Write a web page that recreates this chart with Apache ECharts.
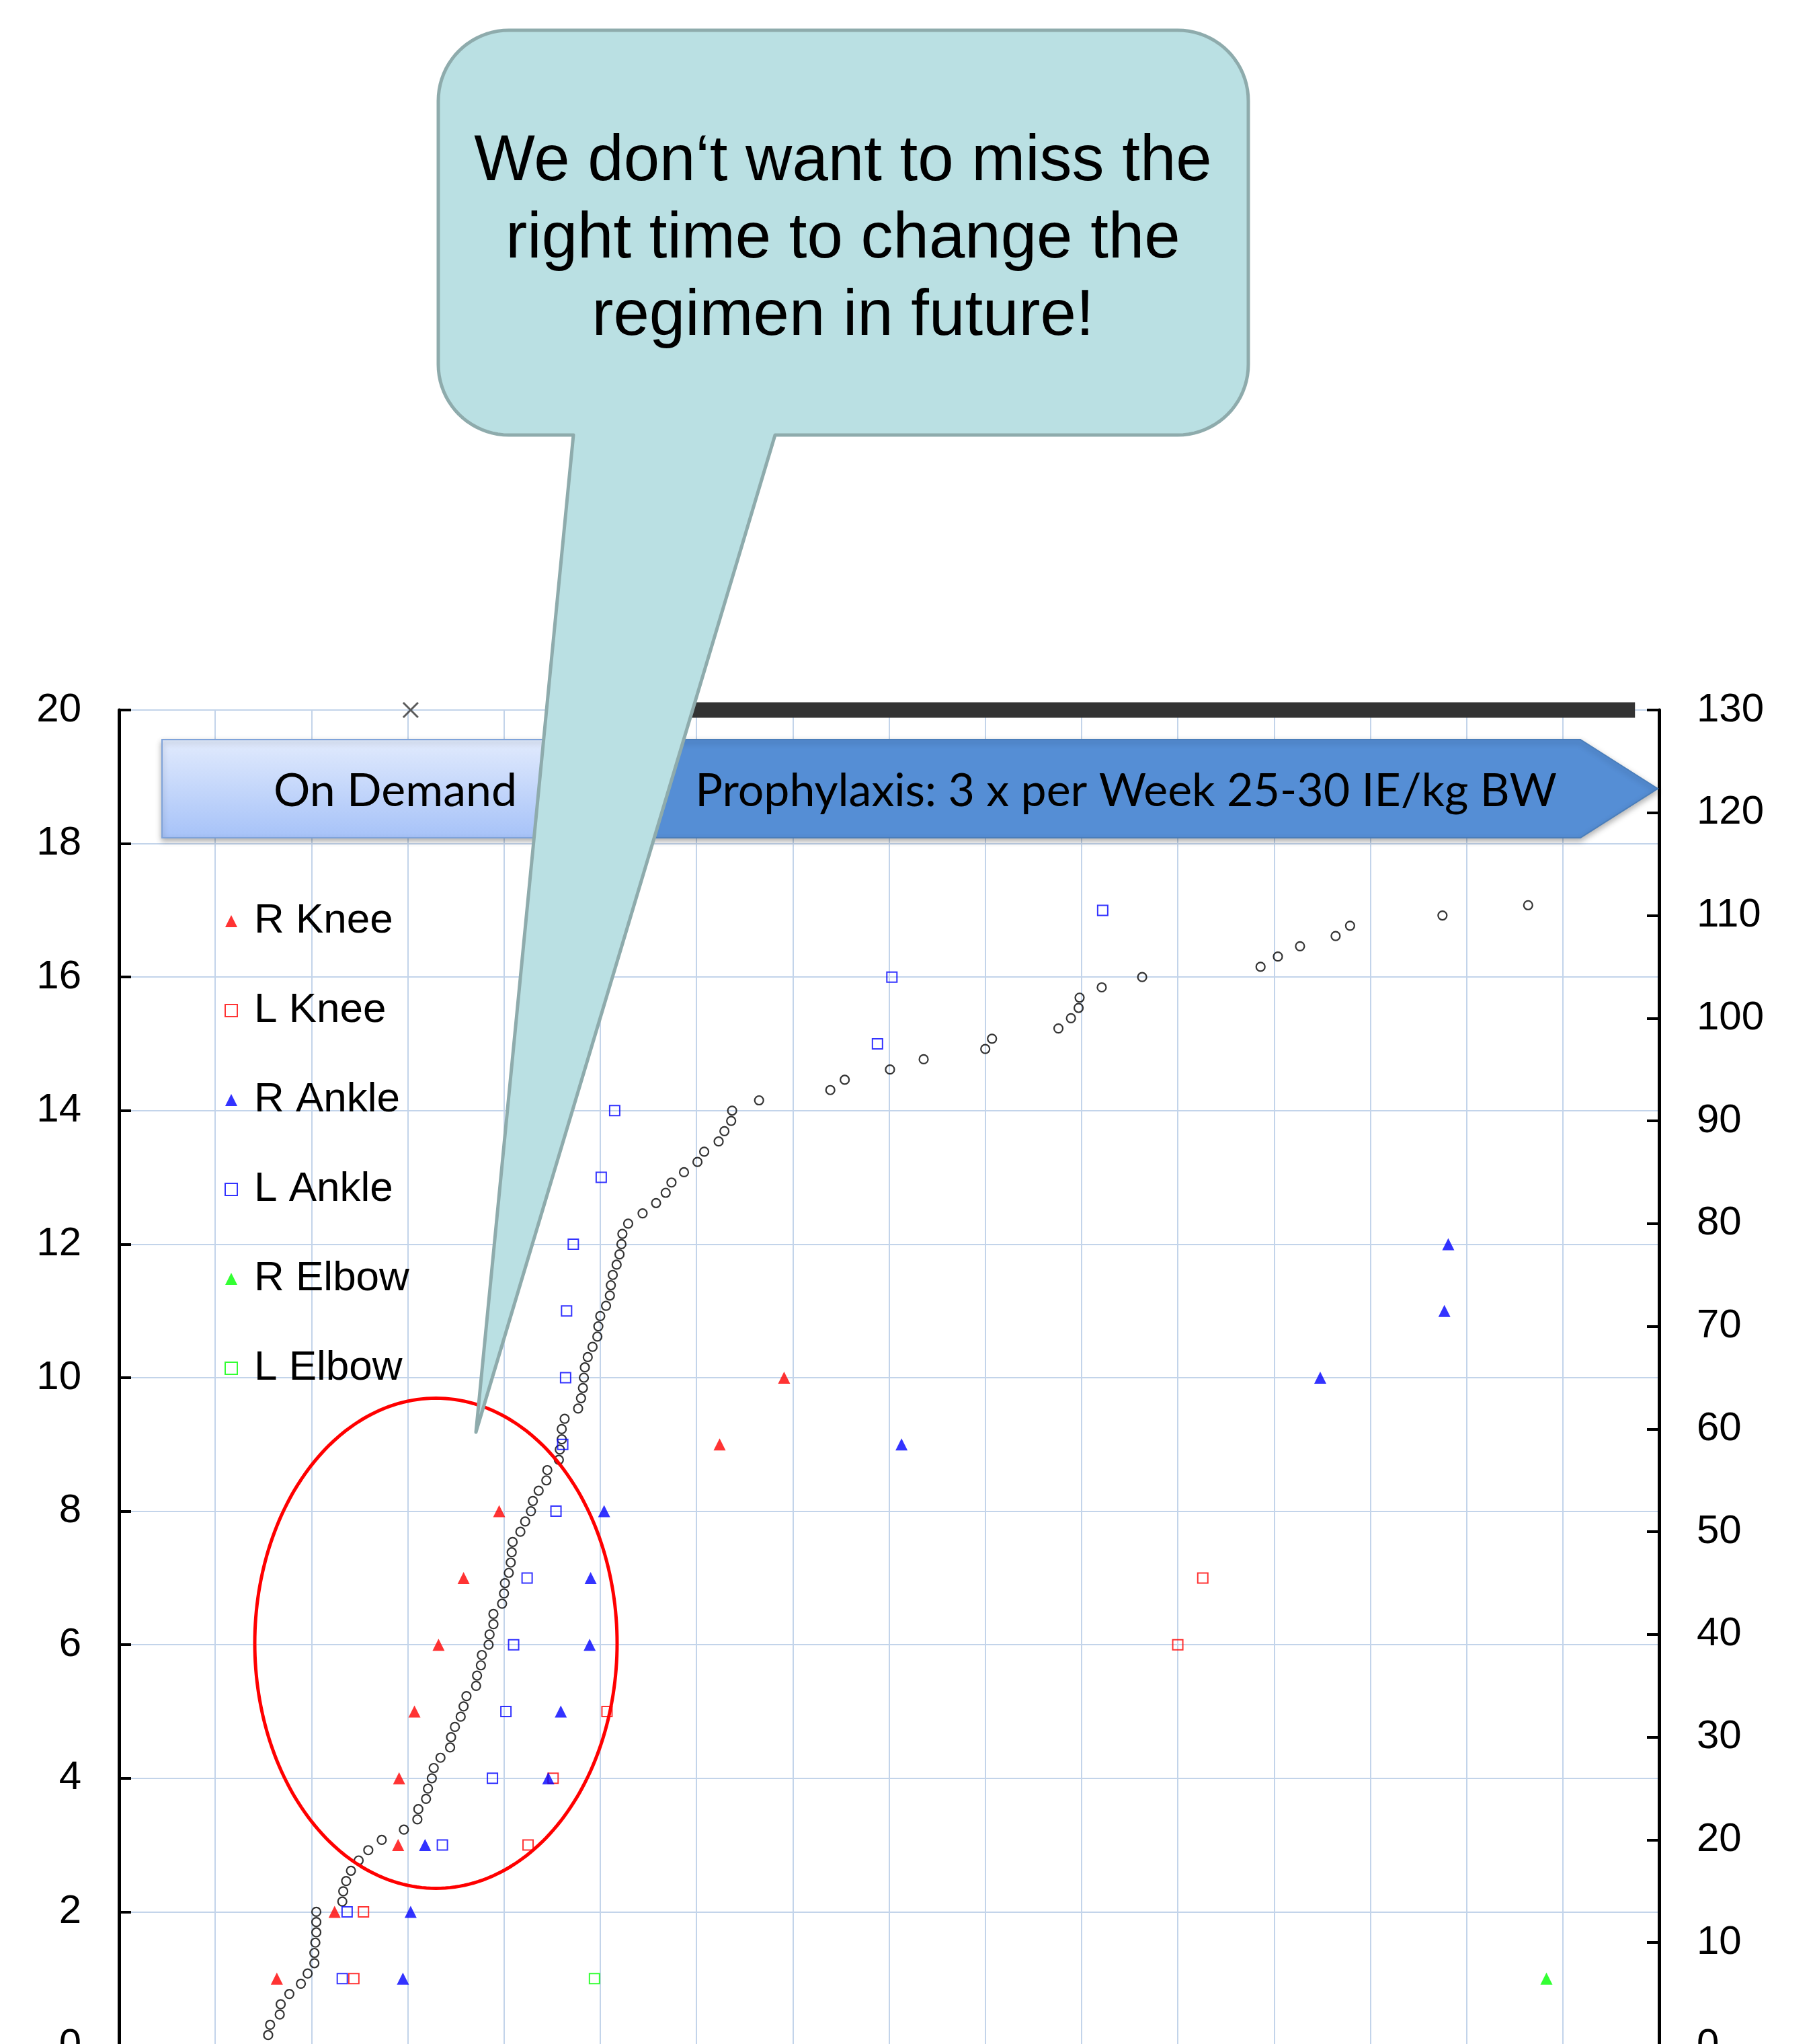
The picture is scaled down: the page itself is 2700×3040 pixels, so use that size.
<!DOCTYPE html>
<html><head><meta charset="utf-8">
<script src="https://cdn.jsdelivr.net/npm/echarts@6/dist/echarts.min.js"></script>
<style>html,body{margin:0;padding:0;background:#fff}#c{width:2700px;height:3040px}</style>
</head><body><div id="c"></div><script>
// ---- data (x = position on the time axis, y = count) ----
const rKneeX = [1.64, 2.24, 2.90, 2.91, 3.07, 3.32, 3.58, 3.95, 6.24, 6.91];
const rKneeY = [1, 2, 3, 4, 5, 6, 7, 8, 9, 10];
const lKneeX = [2.44, 2.54, 4.25, 4.51, 5.07, 11.00, 11.26];
const lKneeY = [1, 2, 3, 4, 5, 6, 7];
const rAnkleX = [2.95, 3.03, 3.18, 4.46, 4.59, 4.89, 4.90, 5.04, 8.13, 12.48, 13.77, 13.81];
const rAnkleY = [1, 2, 3, 4, 5, 6, 7, 8, 9, 10, 11, 12];
const lAnkleX = [2.32, 2.37, 3.36, 3.88, 4.02, 4.10, 4.24, 4.54, 4.61, 4.64, 4.65, 4.72, 5.01, 5.15, 7.88, 8.03, 10.22];
const lAnkleY = [1, 2, 3, 4, 5, 6, 7, 8, 9, 10, 11, 12, 13, 14, 15, 16, 17];
const rElbowX = [14.83];
const rElbowY = [1];
const lElbowX = [4.94];
const lElbowY = [1];
// cumulative bleeds (right axis)
const cumX = [1.55,1.57,1.67,1.68,1.77,1.89,1.96,2.03,2.03,2.04,2.05,2.05,2.05,2.32,2.33,2.36,2.41,2.49,2.59,2.73,
  2.96,3.10,3.11,3.19,3.21,3.25,3.27,3.34,3.44,3.45,3.49,3.55,3.58,3.61,3.71,3.72,3.76,3.77,3.84,3.85,
  3.89,3.89,3.98,4.00,4.01,4.05,4.07,4.08,4.09,4.17,4.22,4.28,4.30,4.36,4.44,4.45,4.57,4.58,4.60,4.60,
  4.63,4.77,4.80,4.82,4.83,4.84,4.87,4.92,4.97,4.98,5.00,5.06,5.10,5.11,5.13,5.17,5.20,5.22,5.23,5.29,
  5.44,5.58,5.68,5.74,5.87,6.01,6.08,6.23,6.29,6.36,6.37,6.65,7.39,7.54,8.01,8.36,9.00,9.07,9.76,9.89,
  9.97,9.98,10.21,10.63,11.86,12.04,12.27,12.64,12.79,13.75,14.64];
const cumY = [1,2,3,4,5,6,7,8,9,10,11,12,13,14,15,16,17,18,19,20,
  21,22,23,24,25,26,27,28,29,30,31,32,33,34,35,36,37,38,39,40,
  41,42,43,44,45,46,47,48,49,50,51,52,53,54,55,56,57,58,59,60,
  61,62,63,64,65,66,67,68,69,70,71,72,73,74,75,76,77,78,79,80,
  81,82,83,84,85,86,87,88,89,90,91,92,93,94,95,96,97,98,99,100,
  101,102,103,104,105,106,107,108,109,110,111];
// regimen markers on top line (y = 20)
const onDemandMarkX = [3.03];
const prophylaxisX = [5.0, 15.75];
const topY = 20;
// axis ticks
const leftTicks = {min: 0, max: 20, interval: 2};
const rightTicks = {min: 0, max: 130, interval: 10};
const xTicks = {min: 0, max: 16, interval: 1};
const legendNames = ['R Knee', 'L Knee', 'R Ankle', 'L Ankle', 'R Elbow', 'L Elbow'];
const bannerLabels = ['On Demand', 'Prophylaxis: 3 x per Week 25-30 IE/kg BW'];
const calloutText = 'We don\u2018t want to miss the\nright time to change the\nregimen in future!';

const pairs = (xs, ys) => xs.map((x, i) => [x, ys[i]]);
const FONT = '"Liberation Sans", Arial, sans-serif';
const GRIDC = '#c3d4ea';

function markSeries(name, symbol, color, xs, ys, filled) {
  return {
    name, type: 'scatter', xAxisIndex: 0, yAxisIndex: 0, symbol,
    symbolSize: symbol === 'triangle' ? 18 : 15,
    data: pairs(xs, ys), z: 6,
    itemStyle: filled ? {color} : {color: 'rgba(255,255,255,0)', borderColor: color, borderWidth: 2},
    emphasis: {disabled: true}
  };
}

// geometry helpers for the annotations
function ellipsePts(cx, cy, rx, ry) {
  const p = [];
  for (let i = 0; i < 240; i++) { const a = i / 240 * Math.PI * 2; p.push([cx + rx * Math.cos(a), cy + ry * Math.sin(a)]); }
  return p;
}
function arc(p, cx, cy, r, a0, a1) {
  for (let i = 0; i <= 20; i++) { const a = (a0 + (a1 - a0) * i / 20) * Math.PI / 180; p.push([cx + r * Math.cos(a), cy + r * Math.sin(a)]); }
}
function calloutPts(L, T, R, B, r, a, b, tip) {
  const p = [];
  arc(p, R - r, T + r, r, -90, 0);
  arc(p, R - r, B - r, r, 0, 90);
  p.push([b, B], tip, [a, B]);
  arc(p, L + r, B - r, r, 90, 180);
  arc(p, L + r, T + r, r, 180, 270);
  return p;
}

const chart = echarts.init(document.getElementById('c'));
const axisCommon = {
  axisLine: {show: true, lineStyle: {color: '#000', width: 5}},
  axisTick: {show: true, inside: true, length: 18, lineStyle: {color: '#000', width: 4}},
  axisLabel: {fontFamily: FONT, fontSize: 60, color: '#000', margin: 56}
};
chart.setOption({
  animation: false,
  backgroundColor: '#fff',
  grid: {left: 177, right: 232, top: 1056, bottom: -2, containLabel: false, outerBoundsMode: 'none'},
  xAxis: {type: 'value', min: xTicks.min, max: xTicks.max, interval: xTicks.interval,
    axisLine: {show: true, lineStyle: {color: '#000', width: 5}}, axisTick: {show: false}, axisLabel: {show: false},
    splitLine: {show: true, lineStyle: {color: GRIDC, width: 2}}},
  yAxis: [
    Object.assign({type: 'value', position: 'left', min: leftTicks.min, max: leftTicks.max, interval: leftTicks.interval,
      splitLine: {show: true, lineStyle: {color: GRIDC, width: 2}}}, axisCommon),
    Object.assign({type: 'value', position: 'right', min: rightTicks.min, max: rightTicks.max, interval: rightTicks.interval,
      splitLine: {show: false}}, axisCommon)
  ],
  legend: {
    orient: 'vertical', left: 329, top: 1330, itemWidth: 18, itemHeight: 18, itemGap: 63,
    data: legendNames, selectedMode: false,
    textStyle: {fontFamily: FONT, fontSize: 62, color: '#000', lineHeight: 70, padding: [0, 0, 0, 20]}
  },
  series: [
    {name: 'Cumulative', type: 'scatter', xAxisIndex: 0, yAxisIndex: 1, symbol: 'circle', symbolSize: 13,
      data: pairs(cumX, cumY), z: 5,
      itemStyle: {color: 'rgba(255,255,255,0)', borderColor: '#000', borderWidth: 2.2}},
    markSeries('R Knee', 'triangle', '#ff0000', rKneeX, rKneeY, true),
    markSeries('L Knee', 'rect', '#ff0000', lKneeX, lKneeY, false),
    markSeries('R Ankle', 'triangle', '#0000ff', rAnkleX, rAnkleY, true),
    markSeries('L Ankle', 'rect', '#0000ff', lAnkleX, lAnkleY, false),
    markSeries('R Elbow', 'triangle', '#00ff00', rElbowX, rElbowY, true),
    markSeries('L Elbow', 'rect', '#00ff00', lElbowX, lElbowY, false),
    {name: 'Prophylaxis infusions', type: 'line', xAxisIndex: 0, yAxisIndex: 0, symbol: 'none', clip: false,
      data: prophylaxisX.map(x => [x, topY]), lineStyle: {color: '#333333', width: 23}, z: 4},
    {name: 'On-demand infusion', type: 'scatter', xAxisIndex: 0, yAxisIndex: 0, clip: false,
      symbol: 'path://M0,0L10,10M10,0L0,10', symbolSize: 22,
      data: onDemandMarkX.map(x => [x, topY]), z: 4,
      itemStyle: {color: 'rgba(0,0,0,0)', borderColor: '#333', borderWidth: 3}}
  ],
  graphic: [
    {type: 'rect', z: 10, shape: {x: 241, y: 1100, width: 660, height: 146},
      style: {fill: {type: 'linear', x: 0, y: 0, x2: 0, y2: 1, colorStops: [{offset: 0, color: '#e2ebfd'}, {offset: 1, color: '#a6c2f8'}]},
        stroke: '#7fa3da', lineWidth: 2, shadowBlur: 8, shadowOffsetY: 4, shadowColor: 'rgba(0,0,0,0.3)'}},
    {type: 'polygon', z: 10, shape: {points: [[900, 1100], [2351, 1100], [2466, 1173], [2351, 1246], [900, 1246]]},
      style: {fill: '#558ed5', stroke: '#4a7ebb', lineWidth: 2, shadowBlur: 8, shadowOffsetY: 4, shadowColor: 'rgba(0,0,0,0.3)'}},
    {type: 'text', z: 11, style: {text: bannerLabels[0], x: 588, y: 1177, fill: '#000', font: '68px Lato', textAlign: 'center', textVerticalAlign: 'middle'}},
    {type: 'text', z: 11, style: {text: bannerLabels[1], x: 1675, y: 1177, fill: '#000', font: '68px Lato', textAlign: 'center', textVerticalAlign: 'middle'}},
    {type: 'polygon', z: 20, shape: {points: ellipsePts(648.5, 2444, 269.5, 364.5)},
      style: {fill: 'none', stroke: '#ff0000', lineWidth: 5}},
    {type: 'polygon', z: 50, shape: {points: calloutPts(652, 45, 1857, 647, 105, 853, 1153, [708, 2130])},
      style: {fill: '#bae0e3', stroke: '#8eabac', lineWidth: 5, lineJoin: 'round'}},
    {type: 'text', z: 51, style: {text: calloutText, x: 1254, y: 357, fill: '#000', font: '96px "Liberation Sans"', lineHeight: 115,
      textAlign: 'center', textVerticalAlign: 'middle'}}
  ]
});
</script></body></html>
